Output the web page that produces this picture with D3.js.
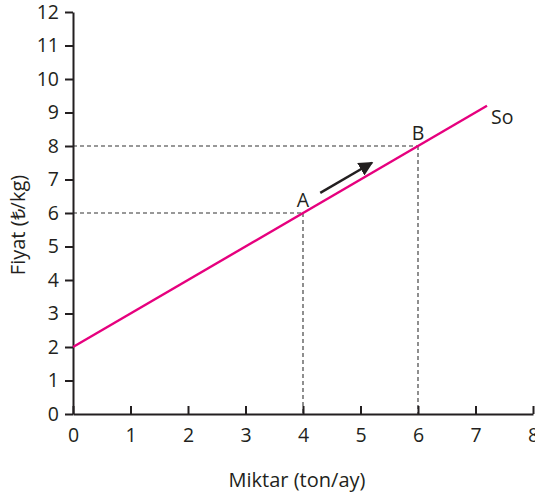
<!DOCTYPE html>
<html><head><meta charset="utf-8">
<script src="https://cdn.jsdelivr.net/npm/d3@7"></script>
<style>body{margin:0;background:#fff}text{font-family:"Open Sans",sans-serif;fill:#231f20}</style>
</head><body><svg id="c" width="535" height="495"></svg>
<script>
const xTicks = [0,1,2,3,4,5,6,7,8];
const yTicks = [0,1,2,3,4,5,6,7,8,9,10,11,12];
const supplyX = [0, 7.2];
const supplyY = [2, 9.2];
const points = [{name:"A", x:4, y:6},{name:"B", x:6, y:8}];
const arrowFrom = [4.3, 6.6];
const arrowTo = [5.2, 7.5];
const xTitle = "Miktar (ton/ay)";
const yTitle = "Fiyat (₺/kg)";
const curveLabel = "So";

const FS = 19.5, FT = 20;
const svg = d3.select("#c");
const x = d3.scaleLinear().domain([0,8]).range([73,533]);
const y = d3.scaleLinear().domain([0,12]).range([414,12]);
const ink = "#231f20";

// dashed guides
points.forEach(p=>{
  svg.append("line").attr("x1",x(0)).attr("x2",x(p.x)).attr("y1",y(p.y)).attr("y2",y(p.y))
    .attr("stroke","#333").attr("stroke-width",1.1).attr("stroke-dasharray","4,3");
  svg.append("line").attr("x1",x(p.x)).attr("x2",x(p.x)).attr("y1",y(p.y)).attr("y2",y(0))
    .attr("stroke","#333").attr("stroke-width",1.1).attr("stroke-dasharray","4,3");
});

// axes
const xa = svg.append("g").attr("transform",`translate(0,${y(0)})`)
  .call(d3.axisBottom(x).tickValues(xTicks).tickSize(7).tickSizeOuter(0).tickPadding(6));
const ya = svg.append("g").attr("transform",`translate(${x(0)},0)`)
  .call(d3.axisLeft(y).tickValues(yTicks).tickSize(8).tickSizeOuter(0).tickPadding(6));
[xa,ya].forEach(g=>{
  g.attr("font-size",FS).attr("font-family","Open Sans");
  g.select(".domain").attr("stroke",ink).attr("stroke-width",2);
  g.selectAll(".tick line").attr("stroke",ink).attr("stroke-width",2);
  g.selectAll(".tick text").attr("font-size",FS).attr("fill",ink);
});
xa.selectAll(".tick line").attr("y1",-8).attr("y2",0);
xa.selectAll(".tick text").attr("y",14);

// supply line
svg.append("line").attr("x1",x(supplyX[0])).attr("y1",y(supplyY[0]))
  .attr("x2",x(supplyX[1])).attr("y2",y(supplyY[1]))
  .attr("stroke","#e6007e").attr("stroke-width",2.4);

svg.append("text").attr("x",x(supplyX[1])+4).attr("y",y(supplyY[1])+18)
  .attr("font-size",FS).text(curveLabel);

points.forEach(p=>{
  svg.append("text").attr("x",x(p.x)).attr("y",y(p.y)-6).attr("text-anchor","middle")
    .attr("font-size",FS).text(p.name);
});

// arrow
svg.append("defs").append("marker").attr("id","ah").attr("viewBox","0 0 10 10")
  .attr("refX",9).attr("refY",5).attr("markerWidth",6).attr("markerHeight",6)
  .attr("markerUnits","strokeWidth").attr("orient","auto")
  .append("path").attr("d","M0,0 L10,5 L0,10 Z").attr("fill",ink);
svg.append("line").attr("x1",x(arrowFrom[0])).attr("y1",y(arrowFrom[1]))
  .attr("x2",x(arrowTo[0])).attr("y2",y(arrowTo[1]))
  .attr("stroke",ink).attr("stroke-width",2.4).attr("marker-end","url(#ah)");

svg.append("text").attr("x",297).attr("y",487).attr("text-anchor","middle")
  .attr("font-size",FT).text(xTitle);
svg.append("text").attr("transform",`translate(25,225) rotate(-90)`).attr("text-anchor","middle")
  .attr("font-size",FT).text(yTitle);
</script></body></html>
